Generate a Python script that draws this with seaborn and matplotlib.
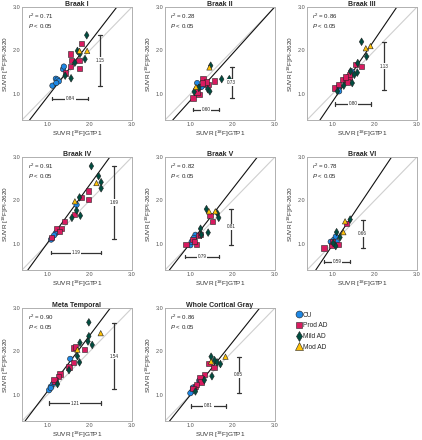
import matplotlib
matplotlib.use('Agg')
import matplotlib.pyplot as plt
from matplotlib.lines import Line2D
import pandas as pd
import seaborn as sns

groups = ['CU', 'Prod AD', 'Mild AD', 'Mod AD']
colors = ['#1E88E5', '#D81B60', '#004D40', '#FFC107']
markers = ['o', 's', 'd', '^']

titles = ['Braak I', 'Braak II', 'Braak III', 'Braak IV', 'Braak V', 'Braak VI',
          'Meta Temporal', 'Whole Cortical Gray']

# group codes: 0 CU, 1 Prod AD, 2 Mild AD, 3 Mod AD
b1_x = [1.12, 1.20, 1.24, 1.27, 1.21, 1.37, 1.39, 1.43, 1.55, 1.57, 1.55, 1.75, 1.81, 1.76,
        1.42, 1.56, 1.65, 1.71, 1.77, 1.89, 1.93, 1.76, 1.94]
b1_y = [1.19, 1.35, 1.33, 1.29, 1.25, 1.57, 1.63, 1.48, 1.92, 1.77, 1.63, 1.77, 2.16, 1.59,
        1.42, 1.36, 1.72, 1.99, 1.92, 1.80, 2.35, 1.99, 1.99]
b1_g = [0, 0, 0, 0, 0, 0, 0, 1, 1, 1, 1, 1, 1, 1, 2, 2, 2, 2, 2, 2, 2, 3, 3]

b2_x = [1.16, 1.23, 1.31, 1.26, 1.30, 1.06, 1.14, 1.20, 1.42, 1.38, 1.57, 1.29, 1.16,
        1.48, 1.09, 1.74, 1.92, 1.41, 1.46, 1.20, 1.45, 1.13]
b2_y = [1.25, 1.16, 1.20, 1.16, 1.35, 0.91, 1.10, 0.98, 1.21, 1.27, 1.30, 1.25, 1.04,
        1.65, 1.05, 1.34, 1.34, 1.11, 1.06, 1.14, 1.61, 1.16]
b2_g = [0, 0, 0, 0, 1, 1, 1, 1, 1, 1, 1, 1, 1, 2, 2, 2, 2, 2, 2, 2, 3, 3]

b3_x = [1.45, 1.15, 1.16, 1.06, 1.25, 1.33, 1.39, 1.35, 1.55, 1.69, 1.41, 1.31, 1.15,
        1.69, 1.81, 1.60, 1.43, 1.59, 1.47, 1.27, 1.12, 1.52, 1.79, 1.90]
b3_y = [1.52, 1.16, 1.06, 1.14, 1.33, 1.34, 1.39, 1.27, 1.67, 1.63, 1.44, 1.39, 1.21,
        2.20, 1.86, 1.71, 1.52, 1.49, 1.25, 1.19, 1.06, 1.44, 2.05, 2.10]
b3_g = [0, 0, 0, 1, 1, 1, 1, 1, 1, 1, 1, 1, 1, 2, 2, 2, 2, 2, 2, 2, 2, 2, 3, 3]

b4_x = [1.69, 1.20, 1.16, 1.10, 1.09, 1.97, 1.97, 1.81, 1.64, 1.40, 1.34, 1.22, 1.28, 1.10,
        2.04, 2.21, 2.27, 2.27, 1.76, 1.69, 1.58, 1.78, 1.65, 2.16]
b4_y = [1.90, 1.25, 1.20, 1.12, 1.10, 2.22, 2.02, 2.07, 1.67, 1.52, 1.35, 1.35, 1.29, 1.15,
        2.79, 2.56, 2.42, 2.28, 2.07, 1.77, 1.60, 1.65, 1.98, 2.40]
b4_g = [0, 0, 0, 0, 0, 1, 1, 1, 1, 1, 1, 1, 1, 1, 2, 2, 2, 2, 2, 2, 2, 2, 3, 3]

b5_x = [1.00, 1.03, 1.12, 1.08, 1.46, 1.52, 0.90, 1.14, 1.06, 1.19, 1.24, 1.10,
        1.38, 1.64, 1.67, 1.24, 1.42, 1.26, 1.44, 1.59]
b5_y = [0.97, 1.05, 1.21, 1.14, 1.65, 1.51, 0.98, 0.98, 1.10, 1.19, 1.21, 1.06,
        1.80, 1.70, 1.60, 1.35, 1.26, 1.21, 1.75, 1.75]
b5_g = [0, 0, 0, 0, 1, 1, 1, 1, 1, 1, 1, 1, 2, 2, 2, 2, 2, 2, 3, 3]

b6_x = [1.04, 1.08, 1.00, 0.96, 1.10, 1.34, 0.80, 0.98, 1.14, 1.00,
        1.42, 1.10, 1.18, 1.08, 1.02, 1.30, 1.26]
b6_y = [1.10, 1.17, 0.98, 1.05, 1.05, 1.47, 0.91, 0.97, 0.98, 1.06,
        1.56, 1.27, 1.15, 0.95, 1.02, 1.52, 1.27]
b6_g = [0, 0, 0, 0, 0, 1, 1, 1, 1, 1, 2, 2, 2, 2, 2, 3, 3]

mt_x = [1.54, 1.13, 1.08, 1.04, 1.08, 1.61, 1.67, 1.87, 1.51, 1.61, 1.30, 1.26, 1.18, 1.16,
        1.98, 1.98, 1.96, 2.06, 1.77, 1.71, 1.76, 1.51, 1.24, 1.71, 2.26]
mt_y = [1.83, 1.25, 1.19, 1.11, 1.16, 2.08, 2.10, 2.04, 1.64, 1.74, 1.48, 1.42, 1.32, 1.35,
        2.67, 2.35, 2.23, 2.15, 2.20, 1.89, 1.75, 1.57, 1.25, 2.04, 2.42]
mt_g = [0, 0, 0, 0, 0, 1, 1, 1, 1, 1, 1, 1, 1, 1, 2, 2, 2, 2, 2, 2, 2, 2, 2, 3, 3]

wc_x = [1.21, 1.10, 1.04, 1.00, 1.06, 1.44, 1.56, 1.33, 1.23, 1.25, 1.12, 1.15, 1.06,
        1.49, 1.57, 1.63, 1.71, 1.51, 1.33, 1.12, 1.49, 1.83]
wc_y = [1.33, 1.13, 1.08, 1.04, 1.17, 1.72, 1.63, 1.47, 1.39, 1.30, 1.19, 1.24, 1.15,
        1.88, 1.80, 1.75, 1.71, 1.43, 1.34, 1.08, 1.77, 1.88]
wc_g = [0, 0, 0, 0, 0, 1, 1, 1, 1, 1, 1, 1, 1, 2, 2, 2, 2, 2, 2, 2, 3, 3]

r2_vals = [0.71, 0.28, 0.86, 0.91, 0.82, 0.78, 0.90, 0.86]
fit_slope = [1.26, 1.08, 1.43, 1.34, 1.25, 1.45, 1.29, 1.22]
fit_icpt = [-0.33, -0.23, -0.61, -0.32, -0.23, -0.48, -0.21, -0.22]

# dynamic range: x range (lo, hi) and y range (lo, hi)
xrng_lo = [1.12, 1.06, 1.06, 1.08, 0.88, 0.80, 1.04, 1.02]
xrng_hi = [1.96, 1.68, 1.91, 2.27, 1.67, 1.42, 2.26, 1.83]
xrng_lbl = ['0.84', '0.60', '0.80', '1.19', '0.79', '0.59', '1.21', '0.81']
yrng_lo = [1.19, 0.91, 1.08, 1.11, 0.98, 0.90, 1.13, 1.04]
yrng_hi = [2.36, 1.63, 2.20, 2.79, 1.80, 1.56, 2.66, 1.88]
yrng_lbl = ['1.15', '0.73', '1.13', '1.69', '0.81', '0.66', '1.54', '0.85']

panels = [(b1_x, b1_y, b1_g), (b2_x, b2_y, b2_g), (b3_x, b3_y, b3_g), (b4_x, b4_y, b4_g),
          (b5_x, b5_y, b5_g), (b6_x, b6_y, b6_g), (mt_x, mt_y, mt_g), (wc_x, wc_y, wc_g)]

# layout (style only)
bar_ypos = [0.89, 0.64, 0.77, 0.80, 0.71, 0.59, 0.81, 0.75]
bar_xpos = [2.25, 1.98, 2.22, 2.58, 1.96, 1.72, 2.57, 2.14]

sns.set_style('white')
plt.rcParams['font.family'] = ['Liberation Sans', 'DejaVu Sans']
plt.rcParams['mathtext.fontset'] = 'custom'
plt.rcParams['mathtext.rm'] = 'Liberation Sans'
plt.rcParams['mathtext.it'] = 'Liberation Sans:italic'

W, H = 422, 440
fig = plt.figure(figsize=(W / 100, H / 100), dpi=100)
lefts = [22, 165, 307]
tops = [7, 157, 308]
aw, ah = 110, 113

pal = dict(zip(groups, colors))
mk = dict(zip(groups, markers))

for i, (px, py, pg) in enumerate(panels):
    r, c = divmod(i, 3)
    ax = fig.add_axes([lefts[c] / W, 1 - (tops[r] + ah) / H, aw / W, ah / H])
    df = pd.DataFrame({'x': px, 'y': py, 'group': [groups[k] for k in pg]})
    ax.axline((0, 0), slope=1, color='#cfcfcf', lw=0.8, zorder=1)
    ax.axline((0, fit_icpt[i]), slope=fit_slope[i], color='#111111', lw=0.8, zorder=2)
    sns.scatterplot(data=df, x='x', y='y', hue='group', style='group', palette=pal,
                    markers=mk, hue_order=groups, style_order=groups, s=15,
                    edgecolor='#222222', linewidth=0.4, legend=False, ax=ax, zorder=3)
    ax.set_xlim(0.4, 3.0)
    ax.set_ylim(0.4, 3.0)
    ax.set_xticks([1.0, 2.0, 3.0])
    ax.set_yticks([1.0, 2.0, 3.0])
    ax.set_xticklabels(['1.0', '2.0', '3.0'])
    ax.set_yticklabels(['1.0', '2.0', '3.0'])
    ax.tick_params(direction='in', length=2, width=0.5, labelsize=4.0, colors='#555555', pad=1.2)
    for s in ax.spines.values():
        s.set_color('#b0b0b0')
        s.set_linewidth(0.7)
    ax.set_xlabel('SUVR [$^{18}$F]GTP1', fontsize=4.6, color='#333333', labelpad=1.5)
    ax.set_ylabel('SUVR [$^{18}$F]PI-2620', fontsize=4.6, color='#333333', labelpad=1.0)
    ax.set_title(titles[i], fontsize=5.0, fontweight='bold', pad=1.0)
    ax.text(0.05, 0.955, f'$r^2$ = {r2_vals[i]:.2f}', transform=ax.transAxes,
            fontsize=4.4, va='top', ha='left')
    ax.text(0.05, 0.87, '$P$ < 0.05', transform=ax.transAxes, fontsize=4.4, va='top', ha='left')
    # horizontal range bar
    yb = bar_ypos[i]
    ax.plot([xrng_lo[i], xrng_hi[i]], [yb, yb], color='#333333', lw=0.9, zorder=4)
    ax.plot([xrng_lo[i], xrng_lo[i]], [yb - 0.04, yb + 0.04], color='#333333', lw=0.9, zorder=4)
    ax.plot([xrng_hi[i], xrng_hi[i]], [yb - 0.04, yb + 0.04], color='#333333', lw=0.9, zorder=4)
    ax.text((xrng_lo[i] + xrng_hi[i]) / 2, yb, xrng_lbl[i], fontsize=3.3, ha='center',
            va='center', zorder=5, bbox=dict(fc='white', ec='none', pad=0.6))
    # vertical range bar
    xb = bar_xpos[i]
    ax.plot([xb, xb], [yrng_lo[i], yrng_hi[i]], color='#333333', lw=0.9, zorder=4)
    ax.plot([xb - 0.05, xb + 0.05], [yrng_lo[i], yrng_lo[i]], color='#333333', lw=0.9, zorder=4)
    ax.plot([xb - 0.05, xb + 0.05], [yrng_hi[i], yrng_hi[i]], color='#333333', lw=0.9, zorder=4)
    ax.text(xb, (yrng_lo[i] + yrng_hi[i]) / 2, yrng_lbl[i], fontsize=3.3, ha='center',
            va='center', zorder=5, bbox=dict(fc='white', ec='none', pad=0.6))

handles = [Line2D([], [], ls='none', marker=m, color=c, markeredgecolor='#222222',
                  markeredgewidth=0.4, markersize=ms)
           for m, c, ms in zip(markers, colors, [5.0, 4.3, 5.2, 5.2])]
fig.legend(handles, groups, loc='upper left', bbox_to_anchor=(293 / W, 1 - 309 / H),
           frameon=False, fontsize=4.8, handletextpad=0.15, labelspacing=0.55,
           borderaxespad=0, handlelength=0.9)

fig.savefig('out.png', dpi=100)
